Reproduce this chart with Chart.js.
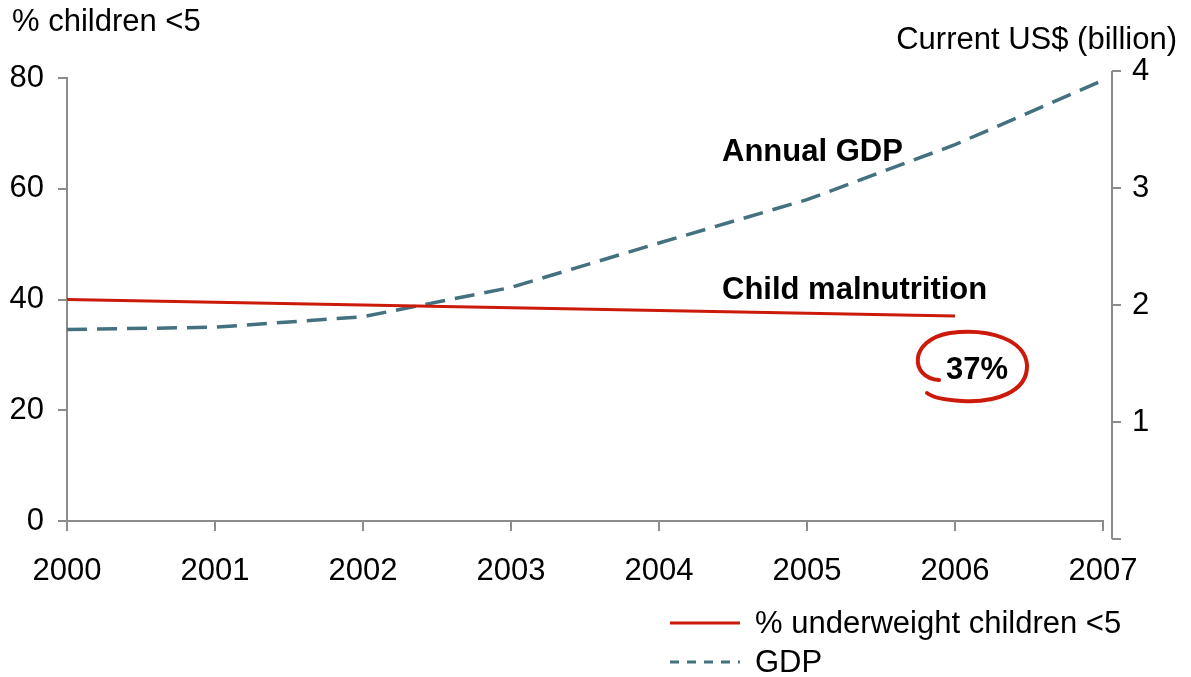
<!DOCTYPE html>
<html>
<head>
<meta charset="utf-8">
<script src="https://cdn.jsdelivr.net/npm/chart.js@4"></script>
<style>
  body { margin: 0; background: #fff; }
  #wrap { width: 1191px; height: 677px; position: relative; }
</style>
</head>
<body>
<div id="wrap"><canvas id="myChart"></canvas></div>
<script>
const years = ['2000', '2001', '2002', '2003', '2004', '2005', '2006', '2007'];
const underweight = [40, 39.5, 39, 38.5, 38, 37.5, 37, null];
const gdp = [1.79, 1.81, 1.90, 2.15, 2.53, 2.90, 3.37, 3.92];
const leftTicks = [0, 20, 40, 60, 80];
const rightTicks = [1, 2, 3, 4];
const rightAxisMarks = [0, 1, 2, 3, 4];

const FONT = "'Liberation Sans', Arial, sans-serif";
const AXIS = '#8c8c8c';
const RED = '#cc1a0a';
const TEAL = '#44717f';

const ctx = document.getElementById('myChart');

// things drawn around the plot: right axis, titles, notes, legend
const extras = {
    id: 'extras',
    afterDraw(chart) {
        const c = chart.ctx;
        const area = chart.chartArea;
        const y1 = chart.scales.y1;

        c.save();
        // right axis sits a little right of the plot
        const ax = area.right + 9;
        c.strokeStyle = AXIS;
        c.lineWidth = 2;
        c.beginPath();
        c.moveTo(ax, y1.getPixelForValue(4));
        c.lineTo(ax, y1.getPixelForValue(0));
        rightAxisMarks.forEach(v => {
            const py = y1.getPixelForValue(v);
            c.moveTo(ax, py);
            c.lineTo(ax + 9, py);
        });
        c.stroke();

        c.fillStyle = '#000';
        c.textBaseline = 'middle';
        c.font = '31px ' + FONT;
        c.textAlign = 'left';
        rightTicks.forEach(v => {
            c.fillText(String(v), ax + 20, y1.getPixelForValue(v));
        });
        c.fillText('% children <5', 12, 22);
        c.textAlign = 'right';
        c.fillText('Current US$ (billion)', 1177, 40);

        c.textAlign = 'left';
        c.font = 'bold 31px ' + FONT;
        c.fillText('Annual GDP', 722, 152);
        c.fillText('Child malnutrition', 722, 290);
        c.fillText('37%', 946, 370);

        // hand drawn ring
        c.strokeStyle = RED;
        c.lineWidth = 4;
        c.lineCap = 'round';
        c.beginPath();
        c.moveTo(939, 380);
        c.bezierCurveTo(910, 378, 908, 340, 950, 333);
        c.bezierCurveTo(990, 328, 1025, 340, 1027, 365);
        c.bezierCurveTo(1028, 392, 995, 403, 962, 401);
        c.bezierCurveTo(945, 400, 932, 397, 927, 393);
        c.stroke();

        // legend
        const ds = chart.data.datasets;
        const rows = [623, 662];
        c.font = '31px ' + FONT;
        ds.forEach((d, i) => {
            c.strokeStyle = d.borderColor;
            c.lineWidth = 3;
            c.lineCap = 'butt';
            c.setLineDash(i === 1 ? [9, 8] : []);
            c.beginPath();
            c.moveTo(670, rows[i]);
            c.lineTo(740, rows[i]);
            c.stroke();
            c.setLineDash([]);
            c.fillStyle = '#000';
            c.fillText(d.label, 755, rows[i] + 1);
        });
        c.restore();
    }
};

new Chart(ctx, {
    type: 'line',
    data: {
        labels: years,
        datasets: [{
            label: '% underweight children <5',
            data: underweight,
            yAxisID: 'y',
            borderColor: RED,
            borderWidth: 3,
            pointRadius: 0,
            tension: 0
        }, {
            label: 'GDP',
            data: gdp,
            yAxisID: 'y1',
            borderColor: TEAL,
            borderWidth: 3.5,
            borderDash: [20, 10],
            pointRadius: 0,
            tension: 0
        }]
    },
    options: {
        responsive: true,
        maintainAspectRatio: false,
        animation: false,
        layout: { padding: { top: 78, left: 0, right: 0, bottom: 0 } },
        plugins: {
            legend: { display: false },
            tooltip: { enabled: false }
        },
        scales: {
            x: {
                offset: false,
                afterFit: s => { s.height = 156; },
                grid: { drawOnChartArea: false, tickLength: 10, color: AXIS, lineWidth: 2 },
                border: { color: AXIS, width: 2 },
                ticks: {
                    color: '#000',
                    font: { family: FONT, size: 31 },
                    padding: 22,
                    maxRotation: 0,
                    autoSkip: false
                }
            },
            y: {
                position: 'left',
                min: 0,
                max: 80,
                afterFit: s => { s.width = 67; },
                afterBuildTicks: s => { s.ticks = leftTicks.map(v => ({ value: v })); },
                grid: { drawOnChartArea: false, tickLength: 9, color: AXIS, lineWidth: 2 },
                border: { color: AXIS, width: 2 },
                ticks: {
                    color: '#000',
                    font: { family: FONT, size: 31 },
                    padding: 14
                }
            },
            y1: {
                position: 'right',
                min: 0.154,
                max: 3.94,
                afterFit: s => { s.width = 88; },
                grid: { display: false, drawTicks: false },
                border: { display: false },
                ticks: { display: false }
            }
        }
    },
    plugins: [extras]
});
</script>
</body>
</html>
